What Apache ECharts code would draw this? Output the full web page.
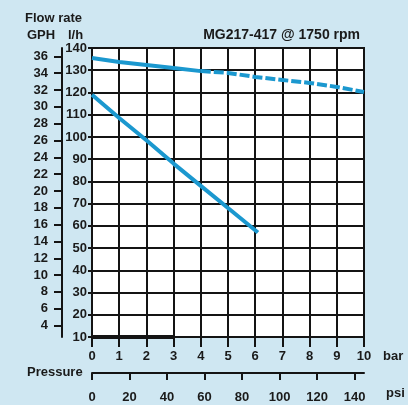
<!DOCTYPE html>
<html><head><meta charset="utf-8">
<script src="https://cdn.jsdelivr.net/npm/echarts@6/dist/echarts.min.js"></script>
<style>html,body{margin:0;padding:0;background:#cfe7f2}#c{width:408px;height:405px}</style>
</head><body><div id="c"></div>
<script>
// Data
const upperBar = [0, 1, 2, 3, 4];
const upperFlow = [135.5, 133.7, 132.4, 131.0, 129.6];
const upperDashBar = [4, 5, 6, 7, 8, 9, 10];
const upperDashFlow = [129.6, 128.8, 127.0, 125.6, 124.3, 122.5, 120.2];
const lowerBar = [0, 1, 2, 3, 4, 5, 6, 6.1];
const lowerFlow = [119, 108.5, 98.5, 88, 78, 68, 58, 57];
const baseBar = [0, 3];
const baseFlow = [10, 10];
const gphTicks = [4, 6, 8, 10, 12, 14, 16, 18, 20, 22, 24, 26, 28, 30, 32, 34, 36];
const psiTicks = [0, 20, 40, 60, 80, 100, 120, 140];
const LH_PER_GPH = 3.785;
const PSI_PER_BAR = 14.5038;

const pair = (xs, ys) => xs.map((x, i) => [x, ys[i]]);
const FONT = "'Liberation Sans', Arial, sans-serif";
const txt = { color: '#1a1a1a', fontFamily: FONT, fontWeight: 'bold', fontSize: 13 };
const black = '#141414';
const blue = '#1b98cf';

const chart = echarts.init(document.getElementById('c'));
chart.setOption({
  backgroundColor: '#cfe7f2',
  animation: false,
  grid: { left: 92, top: 48, right: 44, bottom: 68, show: true, backgroundColor: '#ffffff', borderColor: black, borderWidth: 2 },
  xAxis: [
    { type: 'value', min: 0, max: 10, interval: 1, position: 'bottom',
      axisLine: { show: true, onZero: false, lineStyle: { color: black, width: 2 } },
      axisTick: { show: true, length: 10, lineStyle: { color: black, width: 2 } },
      axisLabel: Object.assign({ margin: 13 }, txt),
      splitLine: { show: true, lineStyle: { color: black, width: 2 } } },
    { type: 'value', min: 0, max: 10 * PSI_PER_BAR, position: 'bottom', offset: 36,
      axisLine: { show: true, onZero: false, lineStyle: { color: black, width: 2 } },
      axisTick: { show: true, length: 7, customValues: psiTicks, lineStyle: { color: black, width: 2 } },
      axisLabel: Object.assign({ margin: 18, customValues: psiTicks }, txt),
      splitLine: { show: false } }
  ],
  yAxis: [
    { type: 'value', min: 10, max: 140, interval: 10, position: 'left',
      axisLine: { show: true, onZero: false, lineStyle: { color: black, width: 2 } },
      axisTick: { show: true, length: 4, lineStyle: { color: black, width: 2 } },
      axisLabel: Object.assign({ margin: 5 }, txt),
      splitLine: { show: true, lineStyle: { color: black, width: 2 } } },
    { type: 'value', min: 10 / LH_PER_GPH, max: 140 / LH_PER_GPH, position: 'left', offset: 30,
      axisLine: { show: true, onZero: false, lineStyle: { color: black, width: 2 } },
      axisTick: { show: true, length: 8, customValues: gphTicks, lineStyle: { color: black, width: 2 } },
      axisLabel: Object.assign({ margin: 14, customValues: gphTicks }, txt),
      splitLine: { show: false } }
  ],
  graphic: [
    { type: 'text', left: 25, top: 12, style: { text: 'Flow rate', fill: '#1a1a1a', font: "bold 13px " + FONT } },
    { type: 'text', left: 27, top: 29, style: { text: 'GPH', fill: '#1a1a1a', font: "bold 13px " + FONT } },
    { type: 'text', left: 68, top: 29, style: { text: 'l/h', fill: '#1a1a1a', font: "bold 13px " + FONT } },
    { type: 'text', right: 48, top: 28, style: { text: 'MG217-417 @ 1750 rpm', fill: '#1a1a1a', font: "bold 14px " + FONT } },
    { type: 'text', left: 383, top: 350, style: { text: 'bar', fill: '#1a1a1a', font: "bold 13px " + FONT } },
    { type: 'text', left: 386, top: 387, style: { text: 'psi', fill: '#1a1a1a', font: "bold 13px " + FONT } },
    { type: 'text', left: 27, top: 366, style: { text: 'Pressure', fill: '#1a1a1a', font: "bold 13px " + FONT } }
  ],
  series: [
    { type: 'line', xAxisIndex: 0, yAxisIndex: 0, data: pair(baseBar, baseFlow), symbol: 'none', clip: false,
      lineStyle: { color: black, width: 4 }, silent: true },
    { type: 'line', xAxisIndex: 0, yAxisIndex: 0, data: pair(upperBar, upperFlow), symbol: 'none',
      lineStyle: { color: blue, width: 4 } },
    { type: 'line', xAxisIndex: 0, yAxisIndex: 0, data: pair(upperDashBar, upperDashFlow), symbol: 'none',
      lineStyle: { color: blue, width: 4, type: [10, 3] } },
    { type: 'line', xAxisIndex: 0, yAxisIndex: 0, data: pair(lowerBar, lowerFlow), symbol: 'none',
      lineStyle: { color: blue, width: 4 } }
  ]
});
</script></body></html>
